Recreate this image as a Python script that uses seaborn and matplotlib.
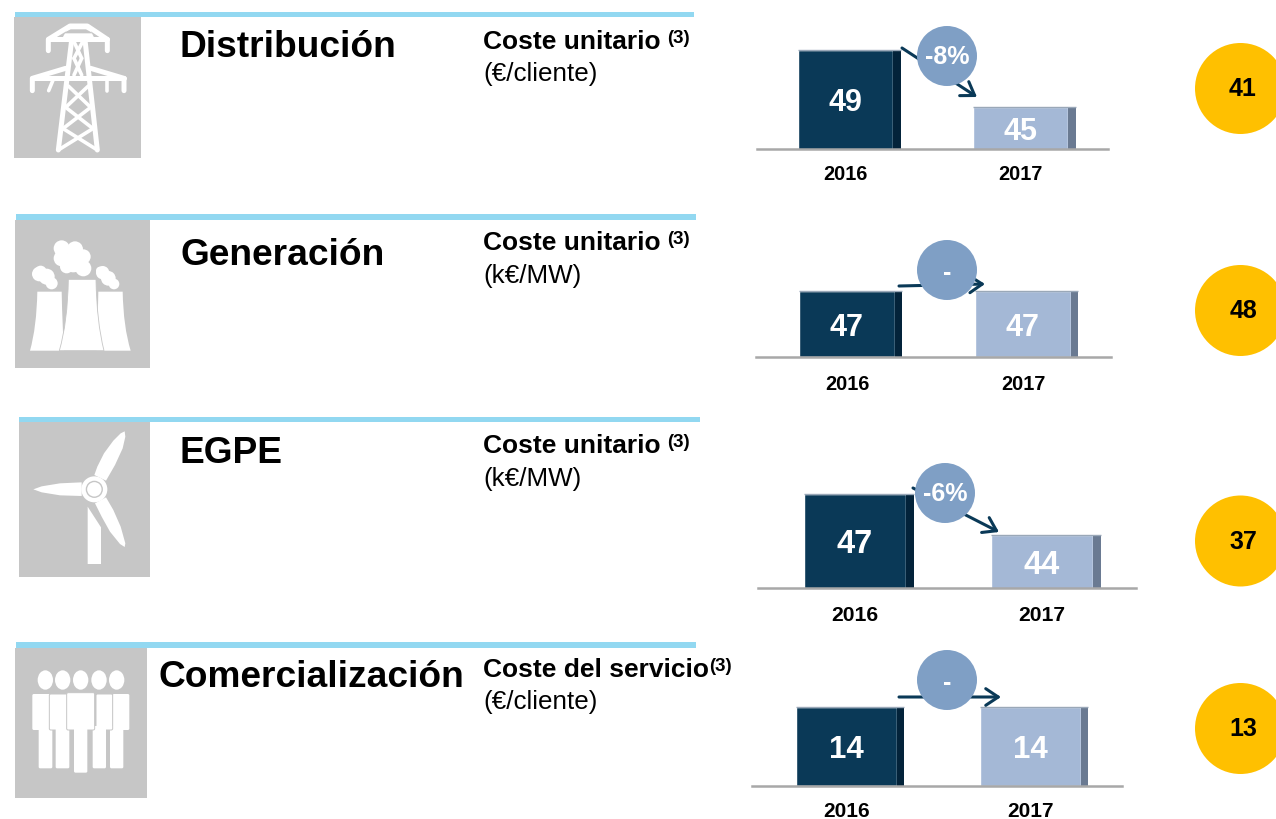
"""
Coste unitario por negocio: 2016 vs 2017, with benchmark circles on the right.
"""

import numpy as np
import pandas as pd
import matplotlib.pyplot as plt
import seaborn as sns
from matplotlib.patches import Circle, Ellipse, FancyArrowPatch, FancyBboxPatch, PathPatch, Polygon, Rectangle
from matplotlib.path import Path

# Data
years = ["2016", "2017"]
businesses = ["Distribución", "Generación", "EGPE", "Comercialización"]
metrics = ["Coste unitario", "Coste unitario", "Coste unitario", "Coste del servicio"]
units = ["(€/cliente)", "(k€/MW)", "(k€/MW)", "(€/cliente)"]
values_2016 = [49, 47, 47, 14]
values_2017 = [45, 47, 44, 14]
changes = ["-8%", "-", "-6%", "-"]
benchmarks = [41, 48, 37, 13]
# bars do not start at zero in the panels that show a change
axis_floor = [42.05, 0, 40.1, 0]

# Layout in pixels
W, H = 1276, 819
bar_left = [798, 799, 804, 796]
bar_right = [973, 975, 991, 980]
bar_w = [95, 96, 102, 101]
side_w = [8, 7, 8, 7]
base_y = [149, 357, 588, 786]
top_y = [50, 291, 494, 707]
line_x = [(757, 1108), (756, 1111), (758, 1136), (752, 1122)]
label_pad = [11.5, 12.8, 12.8, 11.6]
label_size = [14.4, 14.4, 15.2, 15]
value_size = [22, 22, 23.5, 22.5]
head_rule = [(15, 694, 12, 17), (16, 696, 214, 220), (19, 700, 417, 422), (16, 696, 642, 648)]
icon_box = [(14, 141, 17, 158), (15, 150, 220, 368), (19, 150, 422, 577), (15, 147, 648, 798)]
title_x = [180, 181, 180, 159]
title_y = [57, 265, 463, 687]
metric_y = [49, 250, 453, 677]
unit_y = [81, 283, 486, 709]
sup_x = [667, 667, 667, 709]
bubble = [(947, 56), (947, 270), (945, 493), (947, 680)]
arrow_from = [(902, 48), (899, 286), (913, 488), (899, 697)]
arrow_to = [(977, 97), (985, 284), (999, 532), (1001, 697)]
gold_y = [88.5, 310.5, 541, 728.5]

DARK, DARK_SIDE = "#0A3957", "#03233A"
LIGHT, LIGHT_SIDE = "#A4B8D6", "#6A7A92"
BUBBLE = "#7F9FC5"
RULE = "#92D8F1"
GREY = "#C6C6C6"
GOLD = "#FFC000"

sns.set_theme(style="white")
plt.rcParams["font.family"] = ["Liberation Sans", "DejaVu Sans"]

fig = plt.figure(figsize=(W / 100, H / 100), dpi=100)

# One small bar chart per business
for i in range(4):
    x0, x1 = line_x[i]
    ax = fig.add_axes([x0 / W, 1 - base_y[i] / H, (x1 - x0) / W, (base_y[i] - top_y[i]) / H])
    df = pd.DataFrame({"year": years, "value": [values_2016[i], values_2017[i]]})
    sns.barplot(data=df, x="year", y="value", hue="year", palette=[DARK, LIGHT], legend=False,
                saturation=1, width=bar_w[i] / (bar_right[i] - bar_left[i]), ax=ax)
    step = bar_right[i] - bar_left[i]
    first = bar_left[i] + bar_w[i] / 2
    ax.set_xlim((x0 - first) / step, (x1 - first) / step)
    ax.set_ylim(axis_floor[i], values_2016[i])
    ax.patch.set_alpha(0)
    ax.set_xlabel("")
    ax.set_ylabel("")
    ax.set_yticks([])
    ax.tick_params(axis="x", length=0, pad=label_pad[i])
    for tick in ax.get_xticklabels():
        tick.set_fontsize(label_size[i])
        tick.set_fontweight("bold")
        tick.set_color("black")
    sns.despine(ax=ax, left=True)
    ax.spines["bottom"].set_color("#A8A8A8")
    ax.spines["bottom"].set_linewidth(1.8)
    # fake 3D side and top edge of each bar
    for bar, side in zip(ax.patches[:2], [DARK_SIDE, LIGHT_SIDE]):
        right = bar.get_x() + bar.get_width()
        ax.add_patch(Rectangle((right, axis_floor[i]), side_w[i] / step, bar.get_height() - axis_floor[i],
                               color=side, lw=0, clip_on=False))
        ax.plot([bar.get_x(), right + side_w[i] / step], [bar.get_height()] * 2,
                color="#9AA8B8", lw=1.0, clip_on=False, solid_capstyle="butt")
    # label_type center already sits on the visible part of the bar
    for c in ax.containers:
        for t in ax.bar_label(c, label_type="center", color="white", fontweight="bold", fontsize=value_size[i]):
            t.xyann = (0, -2.8)

# Everything around the bars, drawn in pixel coordinates
over = fig.add_axes([0, 0, 1, 1], zorder=5)
over.set_xlim(0, W)
over.set_ylim(H, 0)
over.axis("off")


def zoomed(points, ox, oy):
    return [(ox + x / 3, oy + y / 3) for x, y in points]


def tower_icon(ox, oy):
    thick = [
        [(145, 152), (145, 118), (210, 78), (262, 78), (322, 118), (322, 152)],
        [(145, 118), (322, 118)],
        [(97, 272), (97, 235), (197, 205)], [(372, 272), (372, 235), (272, 205)],
        [(97, 235), (372, 235)],
        [(215, 120), (175, 450)], [(255, 120), (292, 450)],
    ]
    thin = [
        [(146, 272), (160, 238)], [(320, 272), (320, 238)],
        [(175, 450), (280, 385)], [(292, 450), (188, 385)],
        [(190, 385), (272, 322)], [(278, 385), (197, 322)],
        [(197, 322), (265, 258)], [(272, 322), (205, 258)],
        [(222, 125), (245, 175)], [(248, 125), (222, 175)],
        [(222, 175), (245, 225)], [(245, 175), (222, 225)],
    ]
    for group, lw in [(thick, 3.6), (thin, 2.6)]:
        for pts in group:
            xy = np.array(zoomed(pts, ox, oy))
            over.plot(xy[:, 0], xy[:, 1], color="white", lw=lw, solid_capstyle="round", solid_joinstyle="round")
    over.add_patch(Polygon(zoomed([(185, 118), (210, 72), (262, 72), (285, 118)], ox, oy), color="white", lw=0))
    over.add_patch(Polygon(zoomed([(188, 100), (212, 88), (258, 88), (280, 100)], ox, oy), color=GREY, lw=0))


def cooling_shape(top_l, top_r, bot_l, bot_r, y_top, y_bot, ox, oy, edge="none"):
    mid = y_top + (y_bot - y_top) * 0.6
    verts = [(top_l, y_top), (top_r, y_top), (top_r + 2, mid), (bot_r, y_bot), (bot_l, y_bot),
             (top_l - 2, mid), (top_l, y_top), (top_l, y_top)]
    codes = [Path.MOVETO, Path.LINETO, Path.CURVE3, Path.CURVE3, Path.LINETO, Path.CURVE3, Path.CURVE3, Path.CLOSEPOLY]
    over.add_patch(PathPatch(Path(zoomed(verts, ox, oy), codes), facecolor="white", edgecolor=edge, lw=0.6))


def plant_icon(ox, oy):
    cooling_shape(112, 185, 90, 192, 875, 1052, ox, oy)
    cooling_shape(295, 368, 290, 392, 875, 1052, ox, oy)
    cooling_shape(205, 288, 178, 312, 838, 1052, ox, oy, edge=GREY)
    puffs = [(185, 745, 24), (225, 748, 24), (250, 770, 22), (185, 775, 24), (220, 785, 32), (250, 805, 24),
             (200, 800, 20), (118, 822, 22), (140, 830, 24), (155, 850, 18), (122, 815, 18),
             (308, 818, 20), (325, 835, 22), (342, 852, 16), (300, 812, 12)]
    for px, py, r in puffs:
        over.add_patch(Circle((ox + px / 3, oy + py / 3), r / 3, color="white", lw=0))


def turbine_icon(ox, oy):
    blades = [
        [(283, 195), (292, 170), (312, 130), (340, 92), (362, 70), (374, 64), (376, 80), (368, 115), (345, 165), (318, 212)],
        [(245, 217), (180, 220), (125, 229), (100, 238), (125, 247), (180, 256), (245, 258)],
        [(285, 280), (318, 262), (340, 300), (362, 350), (376, 400), (374, 411), (360, 402), (330, 365), (305, 320)],
    ]
    for pts in blades:
        over.add_patch(Polygon(zoomed(pts, ox, oy), color="white", lw=0))
    over.add_patch(Polygon(zoomed([(263, 290), (303, 352), (303, 462), (263, 462)], ox, oy), color="white", lw=0))
    hub = (ox + 283 / 3, oy + 238 / 3)
    over.add_patch(Circle(hub, 13, color="white", lw=0))
    over.add_patch(Circle(hub, 8.6, color=GREY, lw=0))
    over.add_patch(Circle(hub, 7.2, color="white", lw=0))


def person(cx, head_y, torso, leg, ox, oy, edge="none"):
    tl, tr, t0, t1 = torso
    ll, lr, l1 = leg
    over.add_patch(Ellipse((ox + cx / 3, oy + head_y / 3), 46 / 3, 58 / 3, color="white", lw=0))
    over.add_patch(FancyBboxPatch((ox + tl / 3 + 1.5, oy + t0 / 3 + 1.5), (tr - tl) / 3 - 3, (t1 - t0) / 3 - 3,
                                  boxstyle="round,pad=1.5", facecolor="white", edgecolor=edge, lw=0.7))
    over.add_patch(FancyBboxPatch((ox + ll / 3 + 1.5, oy + (t1 - 12) / 3 + 1.5), (lr - ll) / 3 - 3, (l1 - t1 + 12) / 3 - 3,
                                  boxstyle="round,pad=1.5", facecolor="white", edgecolor="none", lw=0))


def people_icon(ox, oy):
    person(136, 810, (97, 150, 852, 960), (116, 157, 1075), ox, oy)
    person(350, 810, (338, 388, 852, 960), (330, 370, 1075), ox, oy)
    person(188, 810, (148, 205, 852, 960), (167, 208, 1075), ox, oy, edge=GREY)
    person(297, 810, (288, 338, 852, 960), (278, 318, 1075), ox, oy, edge=GREY)
    person(242, 810, (200, 284, 848, 960), (222, 262, 1088), ox, oy, edge=GREY)


for i in range(4):
    xa, xb, ya, yb = head_rule[i]
    over.add_patch(Rectangle((xa, ya), xb - xa, yb - ya, color=RULE, lw=0))
    xa, xb, ya, yb = icon_box[i]
    over.add_patch(Rectangle((xa, ya), xb - xa, yb - ya, color=GREY, lw=0))

    over.text(title_x[i], title_y[i], businesses[i], fontsize=26.7, fontweight="bold", color="black", va="baseline")
    over.text(483, metric_y[i], metrics[i], fontsize=19, fontweight="bold", color="black", va="baseline")
    over.text(sup_x[i], metric_y[i] - 6, "(3)", fontsize=13.5, fontweight="bold", color="black", va="baseline")
    over.text(483, unit_y[i], units[i], fontsize=18.7, color="black", va="baseline")

    over.add_patch(FancyArrowPatch(arrow_from[i], arrow_to[i], arrowstyle="->,head_length=9,head_width=6",
                                   mutation_scale=1, color=DARK, lw=2.2, shrinkA=0, shrinkB=0, zorder=3))
    over.add_patch(Circle(bubble[i], 30, color=BUBBLE, lw=0, zorder=4))
    dash_shift = 2 if changes[i] == "-" else 0
    over.text(bubble[i][0], bubble[i][1] + 1 + dash_shift, changes[i], fontsize=18, fontweight="bold", color="white",
              ha="center", va="center", zorder=5)

    gold = Circle((1240.5, gold_y[i]), 45.5, color=GOLD, lw=0)
    over.add_patch(gold)
    over.text(1243, gold_y[i] + 1, str(benchmarks[i]), fontsize=18, fontweight="bold", color="black",
              ha="center", va="center")

tower_icon(0, 0)
plant_icon(0, 0)
turbine_icon(0, 410)
people_icon(0, 410)

fig.savefig("out.png", dpi=100)
plt.close(fig)
